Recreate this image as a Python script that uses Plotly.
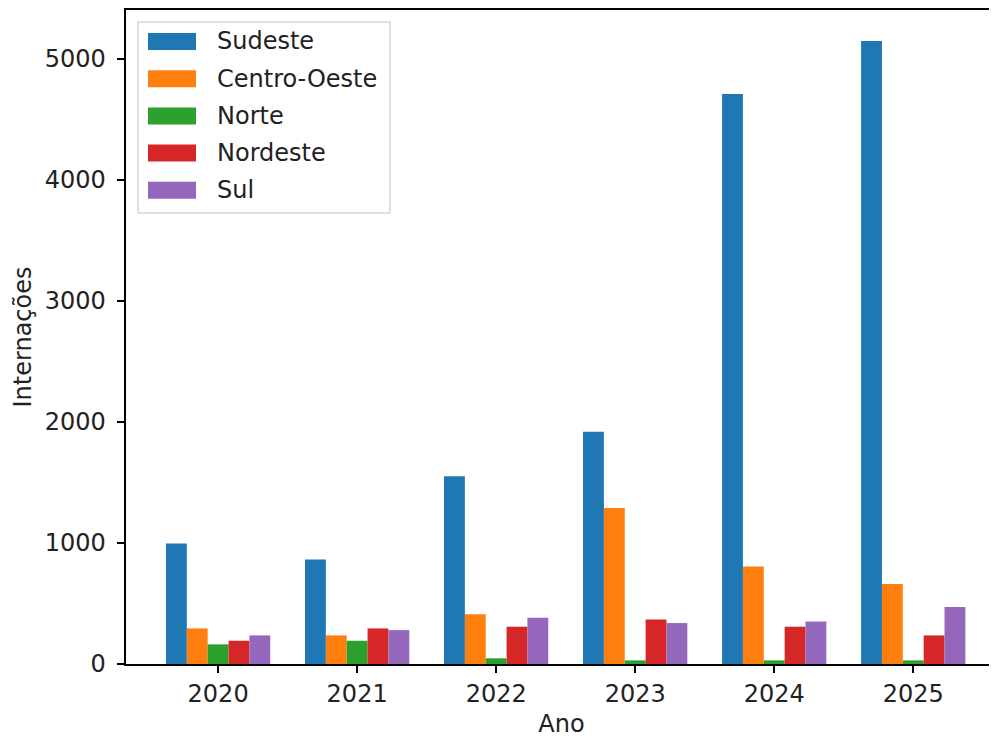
import plotly.graph_objects as go

anos = ["2020", "2021", "2022", "2023", "2024", "2025"]
regioes = ["Sudeste", "Centro-Oeste", "Norte", "Nordeste", "Sul"]
sudeste = [995, 863, 1550, 1918, 4707, 5144]
centro_oeste = [294, 236, 410, 1289, 805, 660]
norte = [162, 192, 47, 30, 30, 30]
nordeste = [192, 294, 308, 368, 308, 236]
sul = [236, 280, 382, 338, 352, 470]
series = [sudeste, centro_oeste, norte, nordeste, sul]
cores = ["#1f77b4", "#ff7f0e", "#2ca02c", "#d62728", "#9467bd"]

OFF = 8  # page body margin
W, H = 997 - OFF, 738 - OFF
L, R, T, B = 126 - OFF, 0, 10 - OFF, 74
PW, PH = W - L - R, H - T - B
FONT = "DejaVu Sans"
FS = 24


def px_x(p):
    return (p - OFF - L) / PW


def px_y(p):
    return (H - B - (p - OFF)) / PH


fig = go.Figure()
for nome, vals, cor in zip(regioes, series, cores):
    fig.add_trace(go.Bar(x=anos, y=vals, name=nome, marker_color=cor,
                         marker_line_width=0, showlegend=False))

# legend (drawn as layout shapes/text)
shapes = [dict(type="rect", xref="paper", yref="paper",
               x0=px_x(138), x1=px_x(390), y0=px_y(213), y1=px_y(22),
               line=dict(color="#d6d6d6", width=1.5), fillcolor="rgba(255,255,255,0.8)",
               layer="above")]
annotations = []
for i, (nome, cor) in enumerate(zip(regioes, cores)):
    cy = 41.5 + i * 37.2
    shapes.append(dict(type="rect", xref="paper", yref="paper",
                       x0=px_x(148), x1=px_x(196), y0=px_y(cy + 8.5), y1=px_y(cy - 8.5),
                       line=dict(width=0), fillcolor=cor, layer="above"))
    annotations.append(dict(xref="paper", yref="paper", x=px_x(218), y=px_y(cy),
                            text=nome, showarrow=False, xanchor="left", yanchor="middle",
                            xshift=-3,
                            font=dict(family=FONT, size=FS, color="#222222")))

fig.update_layout(
    width=W, height=H,
    margin=dict(l=L, r=R, t=T, b=B, pad=0),
    paper_bgcolor="white", plot_bgcolor="white",
    barmode="group", bargap=0.25, bargroupgap=0,
    font=dict(family=FONT, size=FS, color="#222222"),
    shapes=shapes, annotations=annotations,
    xaxis=dict(type="category", range=[-0.6625, 5.6025],
               showline=True, linecolor="#000000", linewidth=1.7, mirror=True,
               ticks="outside", ticklen=7.5, tickwidth=1.7, tickcolor="#000000",
               showgrid=False, zeroline=False,
               title=dict(text="Ano", font=dict(family=FONT, size=FS), standoff=11),
               tickfont=dict(family=FONT, size=FS)),
    yaxis=dict(range=[0, 5401], tickvals=[0, 1000, 2000, 3000, 4000, 5000],
               showline=True, linecolor="#000000", linewidth=1.7, mirror=False,
               ticks="outside", ticklen=7.5, tickwidth=1.7, tickcolor="#000000",
               ticklabelstandoff=6,
               showgrid=False, zeroline=False,
               title=dict(text="Internações", font=dict(family=FONT, size=FS), standoff=6),
               tickfont=dict(family=FONT, size=FS)),
)

fig.write_html("out.html")
